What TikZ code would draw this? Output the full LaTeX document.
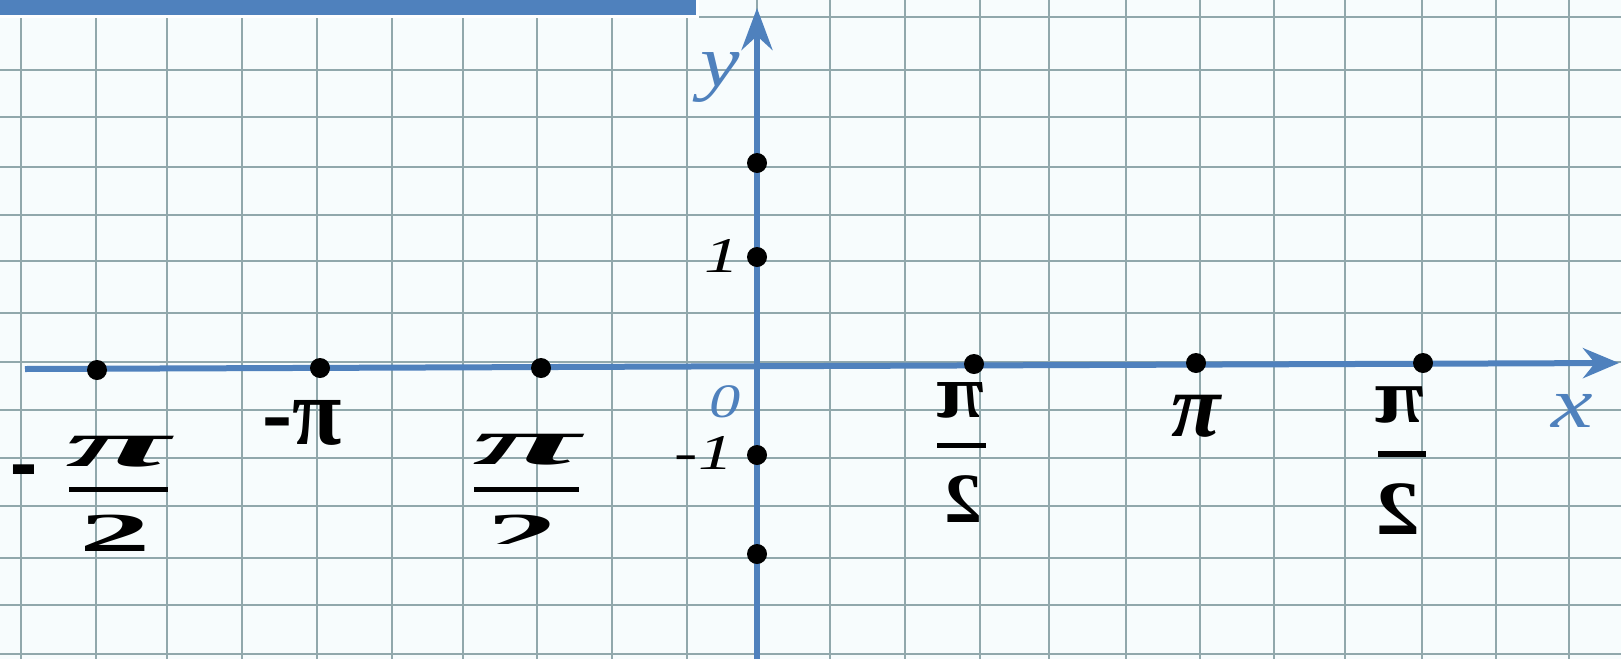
\documentclass[tikz,border=0pt]{standalone}
\usepackage{fontspec}
\usepackage{graphicx}
\setmainfont{Liberation Serif}
\usetikzlibrary{arrows.meta}
\definecolor{axisblue}{RGB}{79,129,189}
\definecolor{gridc}{RGB}{145,168,172}
\definecolor{paper}{RGB}{247,252,253}
\begin{document}
\begin{tikzpicture}[x=1pt,y=-1pt,
  axis/.style={draw=axisblue, line width=6pt},
  gridline/.style={draw=gridc, line width=2.2pt},
  dot/.style={circle, fill=black, inner sep=0pt, minimum size=20pt},
  lab/.style={inner sep=0pt, text=black},
  bluelab/.style={inner sep=0pt, text=axisblue},
  fracbar/.style={fill=black}]
\useasboundingbox (0,0) rectangle (1621,659);
\fill[paper] (0,0) rectangle (1621,659);
% grid paper
\foreach \x in {21,96,167,242,317,392,463,537,612,687,757,830,905,980,1049,1126,1200,1274,1345,1422,1496,1569}
  \draw[gridline] (\x,0) -- (\x,659);
\foreach \y in {17,70,117,167,215,261,313,362,410,458,506,558,605,654}
  \draw[gridline] (0,\y) -- (1621,\y);
% top bar
\fill[axisblue] (0,0) rectangle (696,15);
\draw[white, line width=3pt] (0,16.5) -- (697.5,16.5) -- (697.5,0);
% axes
\coordinate (xs) at (25,369);
\coordinate (xe) at (1619,363);
\coordinate (ys) at (757,659);
\coordinate (ye) at (757,8);
\draw[axis, -{Stealth[length=36pt,width=30pt,inset=12pt]}] (xs) -- (xe);
\draw[axis, -{Stealth[length=42pt,width=31pt,inset=14pt]}] (ys) -- (ye);
% dots on x-axis
\node[dot] (dx1) at (97,370) {};
\node[dot] (dx2) at (320,368) {};
\node[dot] (dx3) at (541,368) {};
\node[dot] (dx4) at (974,364) {};
\node[dot] (dx5) at (1196,363) {};
\node[dot] (dx6) at (1423,363) {};
% dots on y-axis
\node[dot] (dy1) at (757,163) {};
\node[dot] (dy2) at (757,257) {};
\node[dot] (dy3) at (757,455) {};
\node[dot] (dy4) at (757,554) {};
% axis labels
\node[bluelab, font=\fontsize{74}{80}\selectfont\itshape] (ylab) at (720,77) {\scalebox{1.2}[1]{y}};
\node[bluelab, font=\fontsize{72}{80}\selectfont\itshape] (xlab) at (1572,411) {\scalebox{1.3}[1]{x}};
\node[bluelab, font=\fontsize{48}{52}\selectfont\itshape] (olab) at (725,402) {\scalebox{1.3}[1]{0}};
\node[lab, font=\fontsize{50}{54}\selectfont\itshape] (one) at (722,256) {\scalebox{1.4}[1]{1}};
\node[lab, font=\fontsize{50}{54}\selectfont\itshape] (mone) at (704,453) {\scalebox{1.4}[1]{-1}};
% -pi and pi
\node[lab, font=\fontsize{60}{66}\selectfont\bfseries] (mpi) at (302,423) {\scalebox{1.5}[1.6]{-π}};
\node[lab, font=\fontsize{60}{66}\selectfont\bfseries\itshape] (pi) at (1196,416) {\scalebox{1.5}[1.5]{π}};
% left fraction -pi/2
\node[lab, font=\fontsize{60}{66}\selectfont\bfseries] (lminus) at (24,481) {\scalebox{1.35}[1.9]{-}};
\node[lab, font=\fontsize{60}{66}\selectfont\bfseries\itshape] (lpi) at (118,452) {\scalebox{3.2}[1.1]{π}};
\fill[fracbar] (69,487) rectangle (168,492);
\node[lab, font=\fontsize{55}{60}\selectfont\bfseries] (ltwo) at (115,533) {\scalebox{2.6}[1]{2}};
% middle fraction pi/2 (bottom cut)
\node[lab, font=\fontsize{60}{66}\selectfont\bfseries\itshape] (mpi2) at (527,450) {\scalebox{3.3}[1.1]{π}};
\fill[fracbar] (474,487) rectangle (579,492);
\begin{scope}
  \clip (400,500) rectangle (650,543);
  \node[lab, font=\fontsize{55}{60}\selectfont\bfseries] (mtwo) at (522,533) {\scalebox{2.6}[1]{2}};
\end{scope}
% mirrored fractions
\node[lab, font=\fontsize{60}{66}\selectfont\bfseries] (r1pi) at (961,400) {\scalebox{-1.45}[1.27]{π}};
\fill[fracbar] (937,443) rectangle (986,448);
\node[lab, font=\fontsize{60}{66}\selectfont\bfseries] (r1two) at (964,499) {\scalebox{-1.26}[1.18]{2}};
\node[lab, font=\fontsize{60}{66}\selectfont\bfseries] (r2pi) at (1400,405) {\scalebox{-1.5}[1.3]{π}};
\fill[fracbar] (1378,451) rectangle (1426,457);
\node[lab, font=\fontsize{60}{66}\selectfont\bfseries] (r2two) at (1398,509) {\scalebox{-1.48}[1.28]{2}};
\end{tikzpicture}
\end{document}
